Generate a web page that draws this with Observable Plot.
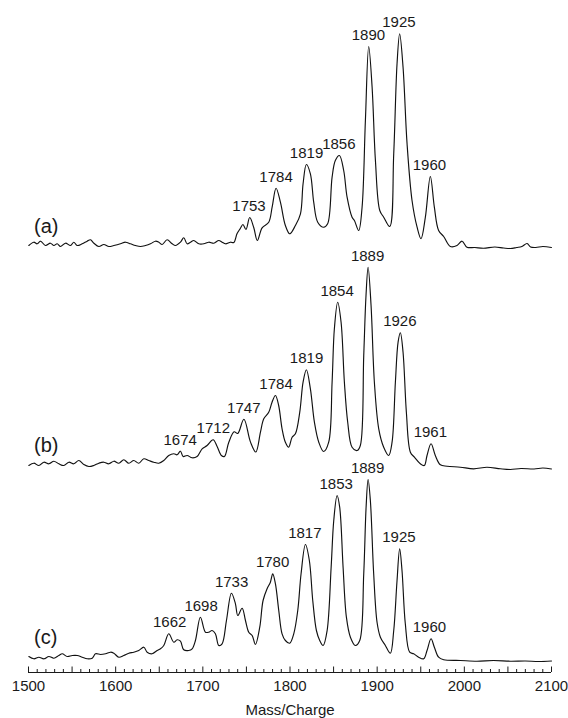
<!DOCTYPE html>
<html><head><meta charset="utf-8">
<script src="https://cdn.jsdelivr.net/npm/d3@7"></script>
<script src="https://cdn.jsdelivr.net/npm/@observablehq/plot@0.6"></script>
<style>body{margin:0;background:#fff} #chart svg{display:block}</style>
</head><body><div id="chart"></div>
<script>
// [m/z, intensity above the trace's own base line]
const spectrumA = [[1500.4,3],[1506.1,6.3],[1509.9,4.7],[1513.8,7.3],[1519.5,3],[1525.2,5.3],[1529.1,3],[1532.9,4.7],[1536.7,2],[1542.4,5.3],[1548.2,3],[1552,6.3],[1555.8,3],[1561.6,4.7],[1567.3,7.3],[1571.1,8.7],[1575,5.3],[1580.7,2],[1586.4,4],[1592.2,2],[1597.9,3],[1605.5,4.7],[1611.3,6.3],[1617,4.7],[1622.7,3],[1628.4,2],[1634.2,3],[1639.9,4.7],[1645.6,7.3],[1649.5,6.3],[1653.3,4],[1659,8.7],[1664.8,4.7],[1668.6,3],[1674.3,6.3],[1678.1,10.7],[1682,4.7],[1685.8,6.3],[1689.6,8],[1695.4,4.7],[1701.1,4.7],[1706.8,6.3],[1712.6,5.3],[1718.3,8],[1722.2,6.3],[1726,4.7],[1731.7,6.3],[1735.5,6],[1739.3,15],[1743,20],[1746,24],[1749.5,19],[1753.8,31],[1758.4,21],[1762.5,8],[1768,20.7],[1775.6,26.3],[1779.5,41.3],[1784,60.3],[1789,46.3],[1794.7,23],[1799.7,14.7],[1806.2,23],[1812,34.7],[1815,64.7],[1818.8,84],[1823.4,74.7],[1827.2,46.3],[1831.8,26.3],[1838.6,21.3],[1843.2,24.7],[1848.3,71.3],[1852,88],[1856.7,93],[1861.6,78],[1865.5,51.3],[1871.2,31.3],[1873.9,28],[1878.8,18],[1882.7,41.3],[1886.5,128],[1890.3,202],[1894.2,161.3],[1898,88],[1903,38],[1907.5,31.3],[1914.4,22],[1919,94.7],[1922.8,184.7],[1925.8,214.7],[1929.7,181.3],[1934.3,104.7],[1940,48],[1945.8,21.3],[1950.3,9.7],[1955.3,31.3],[1961,72],[1965.6,41.3],[1970.5,18],[1976.3,12],[1984,2],[1991.6,3],[1997.4,7.3],[2003,1.3],[2012,1],[2022,0.3],[2035,1.5],[2045,0.5],[2052.8,0],[2060,1],[2066,2],[2072,5],[2076,1.5],[2082,1],[2090,2],[2100,1]];

const spectrumB = [[1500.4,5],[1506.1,7.3],[1511.9,5],[1517.6,8.3],[1523.4,6.7],[1529.1,9.3],[1534.8,6.7],[1540.5,5],[1546.3,8.3],[1552,6.7],[1557.7,10],[1563.5,6],[1569.2,4],[1574.9,5],[1580.7,7.3],[1586.4,8.3],[1592.1,6.7],[1597.9,9.3],[1603.6,7.3],[1609.3,10.7],[1615.1,7.3],[1620.8,10],[1626.5,7.3],[1632.3,11.7],[1638,10],[1643.7,8.3],[1649.5,7.3],[1655.2,10],[1660.9,15],[1666.7,16.7],[1670.5,15.7],[1674.3,19.3],[1677.4,14],[1682,15],[1687.7,12.7],[1693.4,14],[1699.2,21.7],[1704.9,25],[1711.8,30.7],[1716.4,24],[1721.3,15],[1724.8,14],[1729.7,28],[1735.9,38.7],[1740,37],[1747.1,51.2],[1754.6,28.6],[1760.8,18.5],[1766.1,38.3],[1769.9,51.7],[1775.6,58.3],[1779.4,68.3],[1783.3,75],[1787,65],[1790.9,41.7],[1794.7,28.3],[1798.5,23.3],[1802.4,33.3],[1806.2,36.7],[1811.2,58.3],[1815,88.3],[1818.8,100.7],[1823.4,81.7],[1828,48.3],[1833,28.3],[1838.6,19],[1844.4,28.3],[1848.3,88.3],[1850.9,141.7],[1854.7,168.3],[1858.6,148.3],[1862.4,88.3],[1866.2,48.3],[1871.2,23.3],[1877,20],[1880.7,25],[1884.6,115],[1887.2,175],[1889.6,203.3],[1893,165],[1896.8,88.3],[1901.8,41.7],[1907.5,23.3],[1913.2,15],[1917.1,28.3],[1920.9,88.3],[1924,128.3],[1926.6,137.7],[1929.7,118.3],[1933.5,58.3],[1938.1,18.3],[1942.7,13.3],[1949.5,6.7],[1954.1,5],[1957.2,15],[1961.8,26.7],[1966.7,15],[1972.5,5.7],[1980.2,4.3],[1995.4,3.3],[2010.7,1.7],[2026,3.3],[2041.3,1.7],[2052.8,1],[2065,2],[2080,1.5],[2090,2.5],[2100,1.5]];

const spectrumC = [[1500.4,6],[1506.1,3.7],[1511.9,5.3],[1517.6,3.7],[1523.4,6],[1529.1,4.3],[1534.8,7],[1538.7,8.7],[1544.4,6],[1550.2,7],[1555.9,7],[1561.6,5.3],[1567.3,3.7],[1573.1,4.3],[1576.9,8.7],[1582.6,8],[1588.4,8.7],[1594.1,10.3],[1597.9,9.3],[1603.6,5.3],[1609.3,7],[1615.1,9.3],[1620.8,10.3],[1626.5,12],[1632.3,15.3],[1636.1,10.3],[1641.8,8.7],[1647.6,12],[1651.4,13.7],[1655.2,17],[1660.9,28.7],[1666.7,20.3],[1670.5,22.7],[1674.3,21.3],[1678.1,12.7],[1683.8,12],[1687.7,13.7],[1691.5,22],[1697.2,45.3],[1703,30.3],[1706.8,30.3],[1710.6,32],[1714.4,28.7],[1718.3,17],[1722.1,18.7],[1727.1,42],[1732.8,69.3],[1737.4,58.7],[1740.1,47],[1745.1,54.3],[1748.9,42],[1752.7,30.3],[1756.6,27],[1760.3,18],[1765.3,35.3],[1769.1,62],[1773.7,73.7],[1777.5,80.3],[1780.2,88.7],[1783.3,78.7],[1787.1,52],[1790.9,28.7],[1794.7,22],[1799.7,19.3],[1804.3,28.7],[1808.9,52],[1812.7,88.7],[1817.7,118],[1822.2,102],[1826.1,62],[1830.3,32],[1834.1,22],[1838,17],[1842.6,32],[1847.2,95.3],[1850.2,142],[1854,167],[1857,155.3],[1860.9,95.3],[1864.7,45.3],[1869.3,25.3],[1875,17],[1880,22],[1884.6,88.7],[1887.3,155.3],[1889.6,183],[1892.2,162],[1896,88.7],[1899.9,40],[1903.7,25.3],[1909.4,17],[1915.1,9.3],[1919,32],[1922.8,82],[1925.8,113.7],[1928.5,92],[1932.3,38.7],[1937.3,10.3],[1941.9,8.7],[1947.6,5.3],[1953.4,3.7],[1957.2,12],[1961.8,23.7],[1965.6,15.3],[1970.5,5.3],[1976.3,2.7],[1995.4,2],[2014.5,1.3],[2033.6,2],[2052.8,1.3],[2070,1.5],[2085,1],[2100,1.5]];

const peaksA = [1753, 1784, 1819, 1856, 1890, 1925, 1960];
const peaksB = [1674, 1712, 1747, 1784, 1819, 1854, 1889, 1926, 1961];
const peaksC = [1662, 1698, 1733, 1780, 1817, 1853, 1889, 1925, 1960];

const panels = ["(a)", "(b)", "(c)"];
const panelLabelHeight = [15.3, 18.3, 18.7];

const tickLabels = [1500, 1600, 1700, 1800, 1900, 2000, 2100];

// ---- layout (vertical offset of each trace, in y-scale units) ----
const offsets = {"(a)": 424, "(b)": 202, "(c)": 10};
const spectra = {"(a)": spectrumA, "(b)": spectrumB, "(c)": spectrumC};
const peaks = {"(a)": peaksA, "(b)": peaksB, "(c)": peaksC};

const lineData = panels.flatMap(p => spectra[p].map(([mz, v]) => ({panel: p, mz, y: offsets[p] + v})));
const labelData = panels.flatMap(p => peaks[p].map(m => {
  const near = spectra[p].filter(([x]) => Math.abs(x - m) <= 3.5);
  return {panel: p, mz: m, y: offsets[p] + d3.max(near, d => d[1])};
}));
const majorTicks = d3.range(tickLabels[0], tickLabels[tickLabels.length - 1] + 1, 50);
const minorTicks = d3.range(tickLabels[0], tickLabels[tickLabels.length - 1] + 1, 10).filter(d => d % 50 !== 0);

const ink = "#1a1a1a";
const chart = Plot.plot({
  width: 568, height: 718,
  marginTop: 0, marginLeft: 28, marginRight: 17, marginBottom: 46,
  style: {fontFamily: "'Liberation Sans', Arial, sans-serif", fontSize: "15px", color: ink, background: "#fff"},
  x: {domain: [1500, 2100], ticks: tickLabels, tickFormat: d => String(d), tickSize: 0, tickPadding: 8,
      label: "Mass/Charge", labelAnchor: "center", labelOffset: 42, labelArrow: false},
  y: {domain: [0, 672], axis: null},
  marks: [
    Plot.ruleY([0], {stroke: ink, strokeWidth: 1}),
    Plot.ruleX(minorTicks, {x: d => d, y1: 0, y2: 3, stroke: ink, strokeWidth: 1}),
    Plot.ruleX(majorTicks, {x: d => d, y1: 0, y2: 5.5, stroke: ink, strokeWidth: 1}),
    Plot.line(lineData, {x: "mz", y: "y", z: "panel", stroke: "#111", strokeWidth: 1.15, curve: "catmull-rom"}),
    Plot.text(labelData, {x: "mz", y: "y", text: d => String(d.mz), lineAnchor: "bottom", dy: -6.5, fontSize: 15, fill: ink}),
    Plot.text(panels, {x: () => 1500, y: (p, i) => offsets[p] + panelLabelHeight[i], text: d => d,
      textAnchor: "start", lineAnchor: "bottom", dx: 5.5, fontSize: 20, fill: ink})
  ]
});
document.getElementById("chart").appendChild(chart);
</script>
</body></html>
